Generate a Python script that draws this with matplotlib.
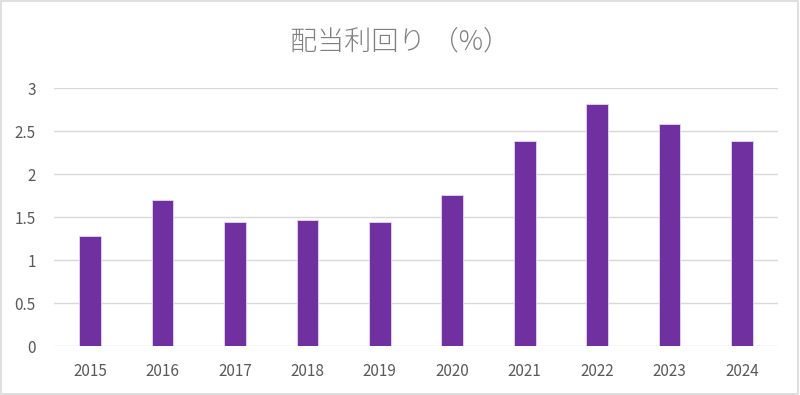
import matplotlib
matplotlib.use("Agg")
import matplotlib.pyplot as plt
import numpy as np

plt.rcParams['font.family'] = ['Noto Sans CJK JP', 'DejaVu Sans']

years = ["2015", "2016", "2017", "2018", "2019", "2020", "2021", "2022", "2023", "2024"]
yield_pct = [1.28, 1.70, 1.44, 1.46, 1.44, 1.76, 2.39, 2.82, 2.58, 2.38]
y_ticks = [0, 0.5, 1, 1.5, 2, 2.5, 3]
y_labels = ["0", "0.5", "1", "1.5", "2", "2.5", "3"]

fig = plt.figure(figsize=(8, 3.95), dpi=100)
ax = fig.add_axes([0.0673, 0.124, 0.9055, 0.653])

x = np.arange(len(years))
ax.bar(x, yield_pct, width=0.3, color="#7030A0", edgecolor="#E6D8F0", linewidth=0.6, zorder=3)

ax.set_xlim(-0.5, len(years) - 0.5)
ax.set_ylim(0, 3)
ax.set_xticks(x)
ax.set_xticklabels(years)
ax.set_yticks(y_ticks)
ax.set_yticklabels(y_labels)
ax.tick_params(axis="both", length=0, labelsize=11, colors="#595959")
ax.tick_params(axis="x", pad=12)
ax.tick_params(axis="y", pad=13)
ax.yaxis.grid(True, color="#D9D9D9", linewidth=1.0, zorder=0)
ax.set_axisbelow(True)
for s in ax.spines.values():
    s.set_visible(False)

fig.text(0.5, 0.895, "配当利回り （%）", ha="center", va="center", fontsize=19.5,
         color="#7F7F7F", fontweight="light")

# outer chart border
fig.patches.append(plt.Rectangle((0.001, 0.002), 0.997, 0.996, transform=fig.transFigure,
                                 fill=False, edgecolor="#D9D9D9", linewidth=1.2))

fig.savefig("out.png", dpi=100)
